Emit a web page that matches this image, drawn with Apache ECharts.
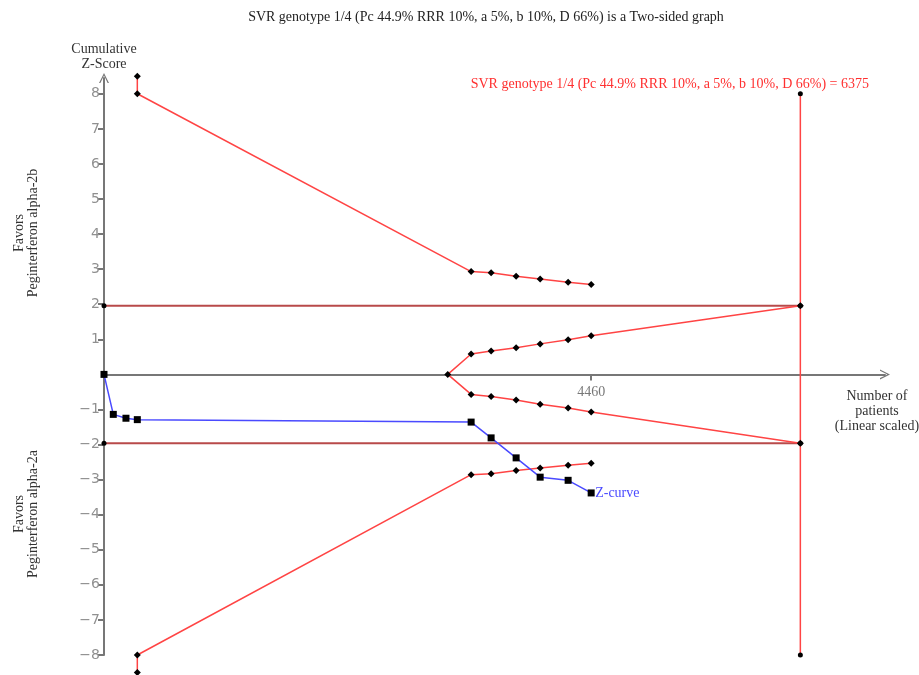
<!DOCTYPE html>
<html>
<head>
<meta charset="utf-8">
<script src="https://cdn.jsdelivr.net/npm/echarts@6/dist/echarts.min.js"></script>
<style>
  html, body { margin: 0; padding: 0; background: #fff; }
  #chart { width: 919px; height: 675px; }
</style>
</head>
<body>
<div id="chart"></div>
<script>
// trial sequential analysis
var requiredSize = 6375;
var boundaryX = [3361, 3544, 3773, 3993, 4249, 4460];
var upperOuter = [2.93, 2.90, 2.80, 2.72, 2.63, 2.56];
var lowerOuter = [-2.86, -2.83, -2.74, -2.67, -2.59, -2.53];
var upperInner = [0.58, 0.67, 0.76, 0.87, 0.99, 1.10];
var lowerInner = [-0.57, -0.63, -0.73, -0.85, -0.96, -1.07];
var wedgeStart = 3147;
var firstLook = 305;
var zX = [0, 85, 201, 305, 3361, 3544, 3773, 3993, 4249, 4460];
var zY = [0, -1.14, -1.25, -1.29, -1.36, -1.81, -2.38, -2.93, -3.02, -3.38];
var yTicks = [-8, -7, -6, -5, -4, -3, -2, -1, 1, 2, 3, 4, 5, 6, 7, 8];
var xTicks = [4460];
var conv = 1.96;

var RED = '#ff4444';
var serif = '"Liberation Serif", "DejaVu Serif", serif';

function pairs(xs, ys) {
    var out = [];
    for (var i = 0; i < xs.length; i++) out.push([xs[i], ys[i]]);
    return out;
}

var upperData = [[firstLook, 8.5], [firstLook, 8]].concat(pairs(boundaryX, upperOuter));
var lowerData = [[firstLook, -8.5], [firstLook, -8]].concat(pairs(boundaryX, lowerOuter));
var wedgeData = [[requiredSize, conv]]
    .concat(pairs(boundaryX, upperInner).reverse())
    .concat([[wedgeStart, 0]])
    .concat(pairs(boundaryX, lowerInner))
    .concat([[requiredSize, -conv]]);

var chevron = 'path://M0,10 L5,0 L10,10 L8.6,10 L5,2.6 L1.4,10 Z';

var myChart = echarts.init(document.getElementById('chart'));

var option = {
    animation: false,
    grid: { left: 104, right: 34, top: 78, bottom: 20 },
    xAxis: {
        type: 'value',
        min: 0,
        max: 7150,
        splitLine: { show: false },
        axisLine: {
            onZero: true,
            lineStyle: { color: '#777', width: 2 },
            symbol: ['none', chevron],
            symbolSize: [14, 10]
        },
        axisTick: { show: true, customValues: xTicks, length: 6, lineStyle: { color: '#777', width: 2 } },
        axisLabel: { show: false }
    },
    yAxis: {
        type: 'value',
        min: -8,
        max: 8.45,
        splitLine: { show: false },
        axisLine: {
            onZero: false,
            lineStyle: { color: '#777', width: 2 },
            symbol: ['none', chevron],
            symbolSize: [14, 10]
        },
        axisTick: { show: true, customValues: yTicks, length: 6, lineStyle: { color: '#777', width: 2 } },
        axisLabel: {
            customValues: yTicks,
            color: '#909090',
            fontFamily: '"DejaVu Sans", sans-serif',
            fontSize: 14,
            margin: 4,
            formatter: function (v) { return v < 0 ? '\u2212' + (-v) : String(v); }
        }
    },
    graphic: [
        { type: 'text', x: 486, y: 17, style: { text: 'SVR genotype 1/4 (Pc 44.9% RRR 10%, a 5%, b 10%, D 66%) is a Two-sided graph', font: '14px ' + serif, fill: '#222', align: 'center', verticalAlign: 'middle' } },
        { type: 'text', x: 869, y: 84, style: { text: 'SVR genotype 1/4 (Pc 44.9% RRR 10%, a 5%, b 10%, D 66%) = 6375', font: '14px ' + serif, fill: '#ff3030', align: 'right', verticalAlign: 'middle' } },
        { type: 'text', x: 104, y: 57, style: { text: 'Cumulative\nZ-Score', font: '14px ' + serif, fill: '#333', align: 'center', verticalAlign: 'middle', lineHeight: 15 } },
        { type: 'text', x: 877, y: 411, style: { text: 'Number of\npatients\n(Linear scaled)', font: '14px ' + serif, fill: '#333', align: 'center', verticalAlign: 'middle', lineHeight: 15 } },
        { type: 'text', x: 26, y: 233, rotation: Math.PI / 2, style: { text: 'Favors\nPeginterferon alpha-2b', font: '14px ' + serif, fill: '#333', align: 'center', verticalAlign: 'middle', lineHeight: 14 } },
        { type: 'text', x: 26, y: 514, rotation: Math.PI / 2, style: { text: 'Favors\nPeginterferon alpha-2a', font: '14px ' + serif, fill: '#333', align: 'center', verticalAlign: 'middle', lineHeight: 14 } }
    ],
    series: [
        {
            name: 'conventional upper', type: 'line', data: [[0, conv], [requiredSize, conv]],
            symbol: 'circle', symbolSize: 5, itemStyle: { color: '#000' },
            lineStyle: { color: '#b84a4a', width: 2 }, z: 1
        },
        {
            name: 'conventional lower', type: 'line', data: [[0, -conv], [requiredSize, -conv]],
            symbol: 'circle', symbolSize: 5, itemStyle: { color: '#000' },
            lineStyle: { color: '#b84a4a', width: 2 }, z: 1
        },
        {
            name: 'RIS', type: 'line', data: [[requiredSize, 8], [requiredSize, -8]],
            symbol: 'circle', symbolSize: 5, itemStyle: { color: '#000' },
            lineStyle: { color: RED, width: 1.5 }, z: 2
        },
        {
            name: 'upper boundary', type: 'line', data: upperData, clip: false,
            symbol: 'diamond', symbolSize: 7, itemStyle: { color: '#000' },
            lineStyle: { color: RED, width: 1.5 }, z: 3
        },
        {
            name: 'lower boundary', type: 'line', data: lowerData, clip: false,
            symbol: 'diamond', symbolSize: 7, itemStyle: { color: '#000' },
            lineStyle: { color: RED, width: 1.5 }, z: 3
        },
        {
            name: 'futility', type: 'line', data: wedgeData,
            symbol: 'diamond', symbolSize: 7, itemStyle: { color: '#000' },
            lineStyle: { color: RED, width: 1.5 }, z: 3
        },
        {
            name: 'Z-curve', type: 'line', data: pairs(zX, zY),
            symbol: 'rect', symbolSize: 7, itemStyle: { color: '#000' },
            lineStyle: { color: '#4a4aff', width: 1.5 }, z: 4,
            endLabel: { show: true, formatter: 'Z-curve', color: '#4a4aff', fontFamily: serif, fontSize: 14, distance: 4 }
        },
        {
            name: 'x tick labels', type: 'scatter',
            data: xTicks.map(function (v) { return [v, 0]; }),
            symbolSize: 0, silent: true,
            label: {
                show: true, position: 'bottom', distance: 11,
                formatter: function (p) { return String(p.value[0]); },
                color: '#555', fontFamily: serif, fontSize: 14
            }
        }
    ]
};

myChart.setOption(option, true);
</script>
</body>
</html>
